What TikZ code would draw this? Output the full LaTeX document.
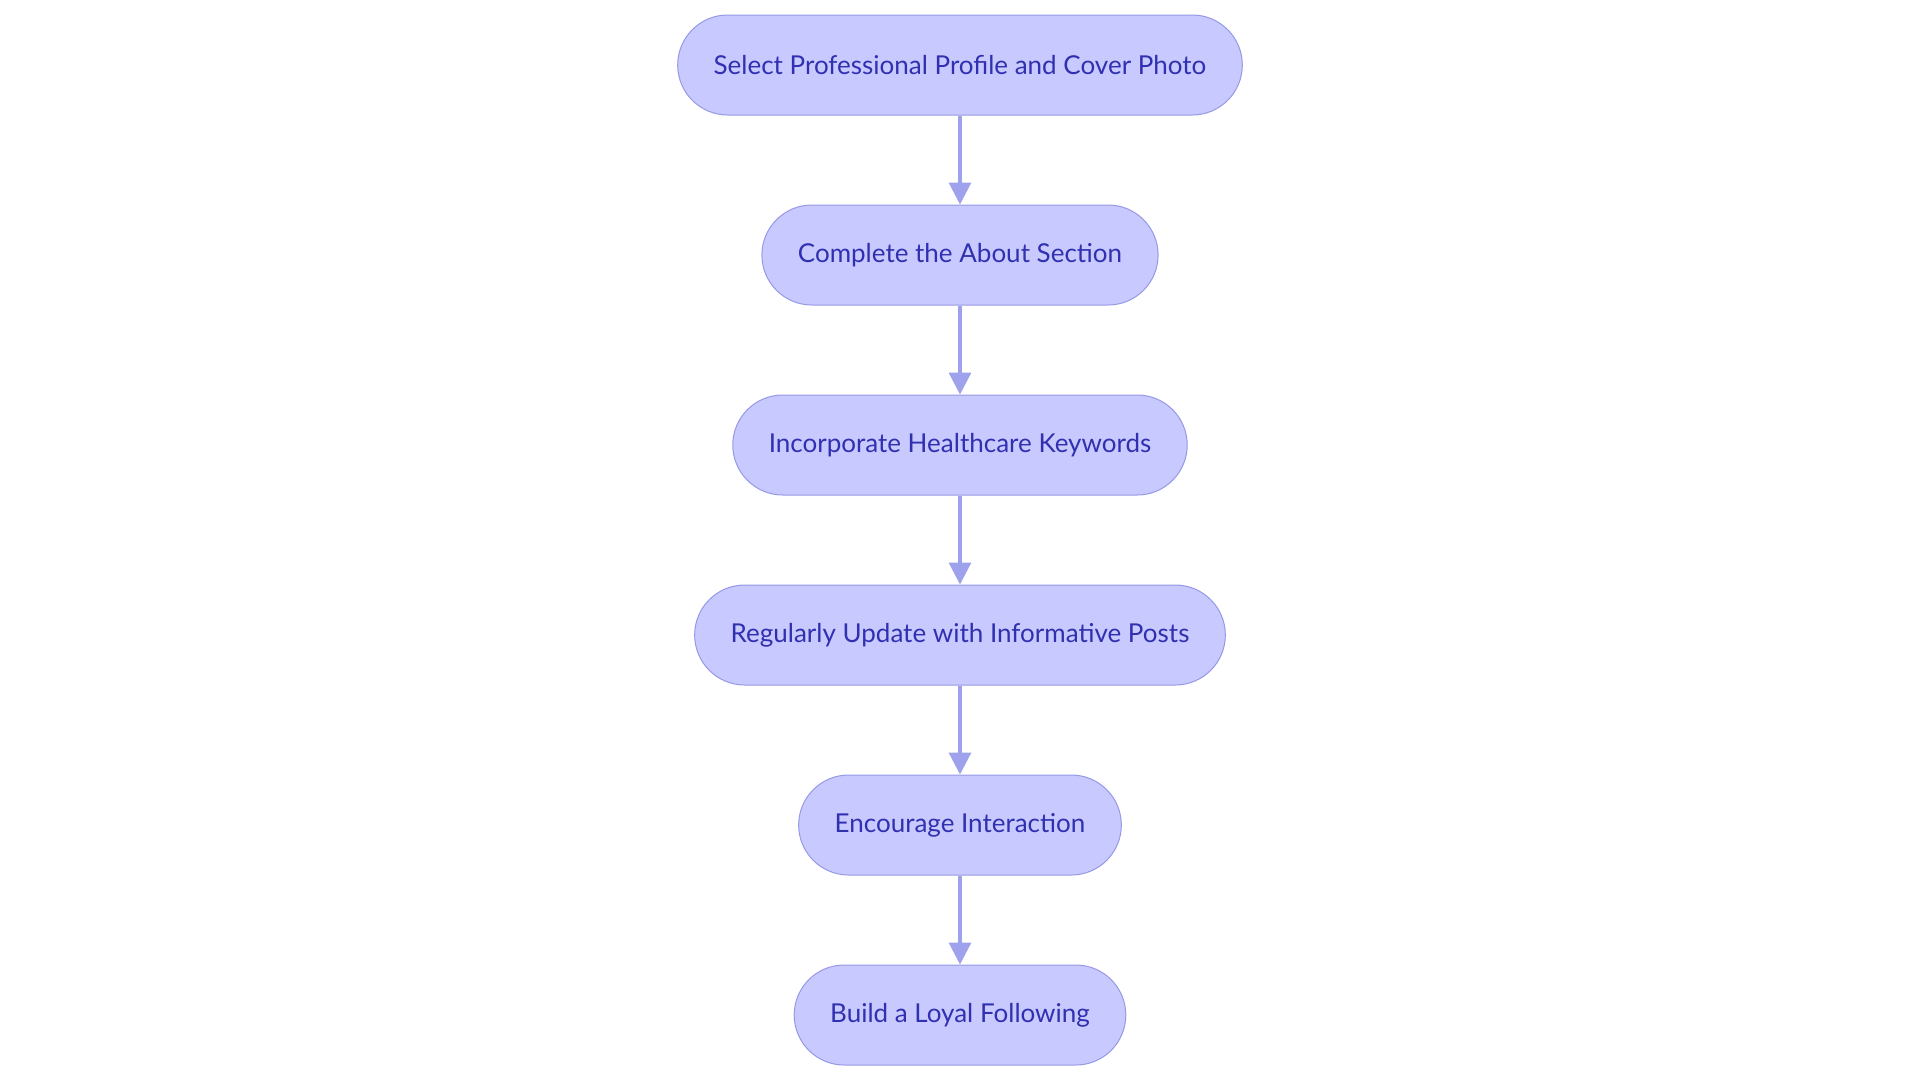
\documentclass[tikz,border=0pt]{standalone}
\usepackage{fontspec}
\setmainfont{Lato}
\usetikzlibrary{positioning, arrows.meta}

\definecolor{stepfill}{RGB}{200,202,255}
\definecolor{stepline}{RGB}{150,152,230}
\definecolor{steptext}{RGB}{48,48,176}
\definecolor{arrowline}{RGB}{158,162,236}

\begin{document}
\begin{tikzpicture}
[->,>={Triangle[length=11pt,width=11pt]},
                    node distance=95pt,on grid,
                    stepbox/.style={rectangle, rounded corners=25pt, draw=stepline, line width=0.5pt,
                      fill=stepfill, text=steptext, minimum height=50pt, inner xsep=18pt,
                      font=\fontsize{13}{15}\selectfont}]
\useasboundingbox (-480pt,32.5pt) rectangle (480pt,-509pt);

\node[stepbox] (photo) {Select Professional Profile and Cover Photo};
\node[stepbox, below=of photo] (about) {Complete the About Section};
\node[stepbox, below=of about] (keywords) {Incorporate Healthcare Keywords};
\node[stepbox, below=of keywords] (posts) {Regularly Update with Informative Posts};
\node[stepbox, below=of posts] (interact) {Encourage Interaction};
\node[stepbox, below=of interact] (loyal) {Build a Loyal Following};

\path[color=arrowline, line width=1.6pt]
	(photo) edge (about)
	(about) edge (keywords)
	(keywords) edge (posts)
	(posts) edge (interact)
	(interact) edge (loyal);

\end{tikzpicture}
\end{document}
